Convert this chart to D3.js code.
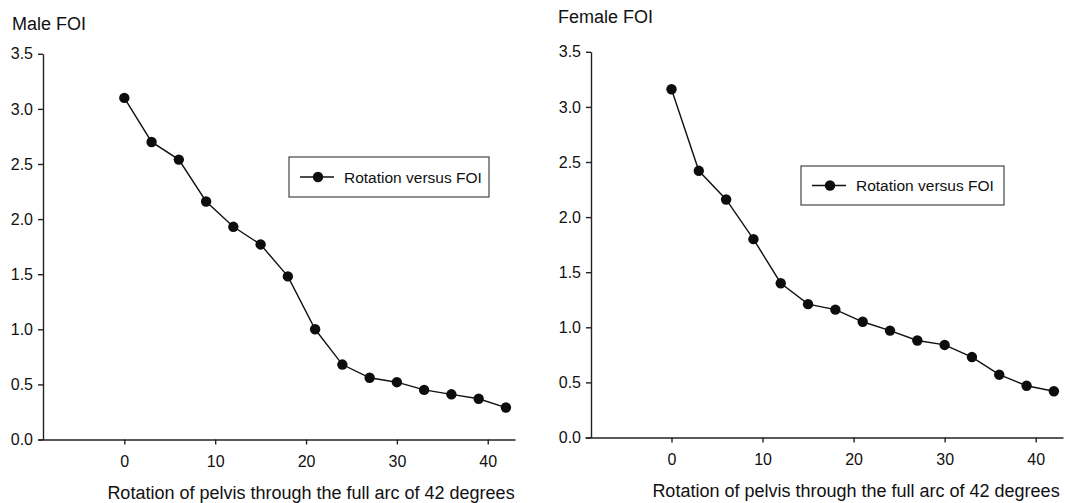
<!DOCTYPE html>
<html>
<head>
<meta charset="utf-8">
<script src="https://cdn.jsdelivr.net/npm/d3@7"></script>
<style>
  body { margin: 0; background: #fff; }
  text { font-family: "Liberation Sans", Arial, sans-serif; fill: #111; }
  .domain, .tick line { stroke: #222; stroke-width: 1.4; }
</style>
</head>
<body>
<script>
// data
const rotation = [0, 3, 6, 9, 12, 15, 18, 21, 24, 27, 30, 33, 36, 39, 42];
const maleFOI = [3.10, 2.70, 2.54, 2.16, 1.93, 1.77, 1.48, 1.00, 0.68, 0.56, 0.52, 0.45, 0.41, 0.37, 0.29];
const femaleFOI = [3.16, 2.42, 2.16, 1.80, 1.40, 1.21, 1.16, 1.05, 0.97, 0.88, 0.84, 0.73, 0.57, 0.47, 0.42];
const xTicks = [0, 10, 20, 30, 40];
const yTicks = [0, 0.5, 1.0, 1.5, 2.0, 2.5, 3.0, 3.5];
const xLabel = "Rotation of pelvis through the full arc of 42 degrees";
const legendLabel = "Rotation versus FOI";

const w = 1065;
const h = 503;

const svg = d3.select("body")
    .append("svg")
    .attr("width", w)
    .attr("height", h);

// one panel per sex, layout only
const panels = [
    { title: "Male FOI", values: maleFOI, titleX: 12, titleY: 30,
      x0: 38, x1: 515, yAxisX: 43, yBottom: 439.5, yTop: 53.8,
      labelX: 311, labelY: 499, legend: { x: 289, y: 157, w: 200, h: 40 } },
    { title: "Female FOI", values: femaleFOI, titleX: 558, titleY: 23,
      x0: 585, x1: 1063, yAxisX: 591, yBottom: 437.5, yTop: 51.8,
      labelX: 856, labelY: 497, legend: { x: 801, y: 166, w: 203, h: 39 } }
];

panels.forEach((p) => {
    const g = svg.append("g");

    const xScale = d3.scaleLinear()
        .domain([-9.5, 43])
        .range([p.x0, p.x1]);

    const yScale = d3.scaleLinear()
        .domain([0, 3.5])
        .range([p.yBottom, p.yTop]);

    // axes
    g.append("g")
        .attr("transform", "translate(0," + p.yBottom + ")")
        .call(d3.axisBottom(xScale).tickValues(xTicks).tickSize(5).tickSizeOuter(0).tickPadding(11))
        .call((a) => a.selectAll("text").style("font-size", "16px").attr("fill", "#111"));

    g.append("g")
        .attr("transform", "translate(" + p.yAxisX + ",0)")
        .call(d3.axisLeft(yScale).tickValues(yTicks).tickFormat(d3.format(".1f")).tickSize(5).tickSizeOuter(0).tickPadding(5))
        .call((a) => a.selectAll("text").style("font-size", "16px").attr("fill", "#111"));

    // title and axis label
    g.append("text")
        .attr("x", p.titleX)
        .attr("y", p.titleY)
        .style("font-size", "18px")
        .text(p.title);

    g.append("text")
        .attr("x", p.labelX)
        .attr("y", p.labelY)
        .attr("text-anchor", "middle")
        .style("font-size", "18px")
        .text(xLabel);

    // line and dots
    const pts = rotation.map((r, i) => [r, p.values[i]]);

    const line = d3.line()
        .x((d) => xScale(d[0]))
        .y((d) => yScale(d[1]));

    g.append("path")
        .datum(pts)
        .attr("d", line)
        .attr("fill", "none")
        .attr("stroke", "#111")
        .attr("stroke-width", 1.4);

    g.selectAll("circle")
        .data(pts)
        .enter()
        .append("circle")
        .attr("cx", (d) => xScale(d[0]))
        .attr("cy", (d) => yScale(d[1]))
        .attr("r", 5.2)
        .attr("fill", "#0d0d0d");

    // legend box
    const lg = p.legend;
    g.append("rect")
        .attr("x", lg.x)
        .attr("y", lg.y)
        .attr("width", lg.w)
        .attr("height", lg.h)
        .attr("fill", "none")
        .attr("stroke", "#333")
        .attr("stroke-width", 1.1);

    const cy = lg.y + lg.h / 2;
    g.append("line")
        .attr("x1", lg.x + 11)
        .attr("x2", lg.x + 45)
        .attr("y1", cy)
        .attr("y2", cy)
        .attr("stroke", "#111")
        .attr("stroke-width", 1.4);

    g.append("circle")
        .attr("cx", lg.x + 29)
        .attr("cy", cy)
        .attr("r", 5.2)
        .attr("fill", "#0d0d0d");

    g.append("text")
        .attr("x", lg.x + 55)
        .attr("y", cy + 5.5)
        .style("font-size", "15.5px")
        .text(legendLabel);
});
</script>
</body>
</html>
